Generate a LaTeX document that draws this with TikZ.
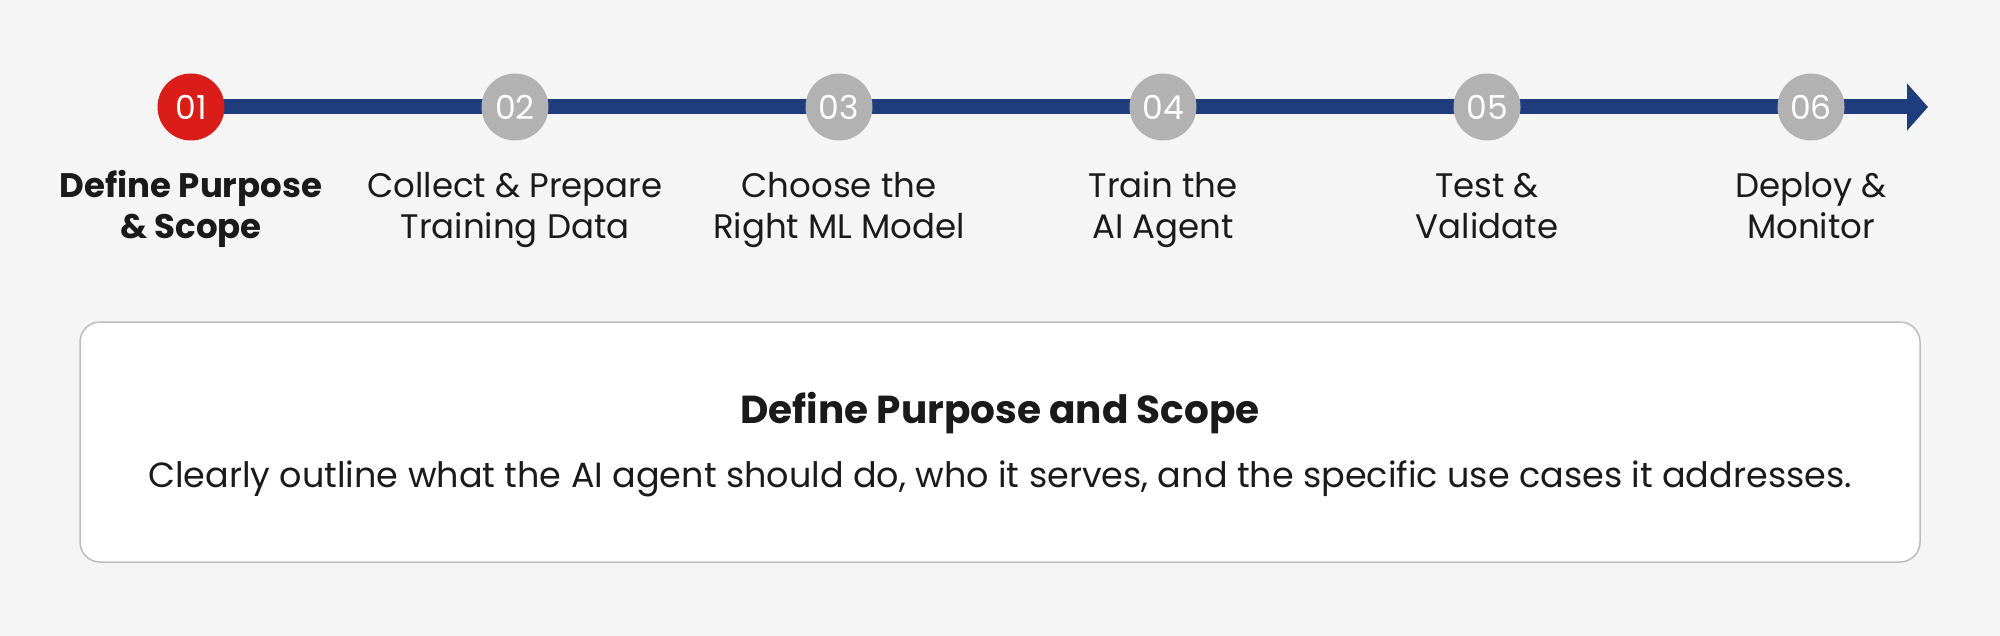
\documentclass[tikz,border=0pt]{standalone}
\usepackage{fontspec}
\setmainfont{Poppins}
\usepackage{xcolor}
\usetikzlibrary{arrows.meta}

\definecolor{pagebg}{HTML}{F5F5F5}
\definecolor{navy}{HTML}{1F3D7C}
\definecolor{stepred}{HTML}{DA1D18}
\definecolor{stepgray}{HTML}{B2B2B2}
\definecolor{ink}{HTML}{1A1A1A}
\definecolor{boxline}{HTML}{BDBDBD}

\begin{document}
\begin{tikzpicture}[x=0.5pt,y=-0.5pt,node distance=162pt,
    stepdot/.style={circle, fill=stepgray, minimum size=33.5pt, inner sep=0pt, text=white, font=\fontsize{16.5}{18}\selectfont},
    steplabel/.style={align=center, inner sep=0pt, text=ink, font=\fontsize{17}{20.5}\selectfont},
    ]
                    \useasboundingbox (0,0) rectangle (2000,636);
                    \fill [pagebg](0,0) rectangle (2000,636);

                    \coordinate (start) at (191,107);
                    \coordinate (tip) at (1928,107);
                    \draw [navy, line width=7.5pt, -{Triangle[width=23pt,length=10.5pt]}](start) -- (tip);

                    \node [stepdot, fill=stepred](1) at (start){01};
                    \node [stepdot](2) [right of = 1]{02};
                    \node [stepdot](3) [right of = 2]{03};
                    \node [stepdot](4) [right of = 3]{04};
                    \node [stepdot](5) [right of = 4]{05};
                    \node [stepdot](6) [right of = 5]{06};

                    \node [steplabel, font=\fontsize{17}{20.5}\selectfont\bfseries](l1) [below of = 1, node distance=51.6pt]{\strut Define Purpose\\\strut\& Scope};
                    \node [steplabel](l2) [below of = 2, node distance=51.6pt]{\strut Collect \& Prepare\\\strut Training Data};
                    \node [steplabel](l3) [below of = 3, node distance=51.6pt]{\strut Choose the\\\strut Right ML Model};
                    \node [steplabel](l4) [below of = 4, node distance=51.6pt]{\strut Train the\\\strut AI Agent};
                    \node [steplabel](l5) [below of = 5, node distance=51.6pt]{\strut Test \&\\\strut Validate};
                    \node [steplabel](l6) [below of = 6, node distance=51.6pt]{\strut Deploy \&\\\strut Monitor};

                    \node [draw=boxline, fill=white, line width=0.75pt, rounded corners=10pt, minimum width=920pt, minimum height=120pt](box) at (1000,442){};
                    \node [text=ink, anchor=base, font=\fontsize{19.5}{22}\selectfont\bfseries](title) at (1000,423){Define Purpose and Scope};
                    \node [text=ink, anchor=base, font=\fontsize{17.5}{20}\selectfont](desc) at (1000,487){Clearly outline what the AI agent should do, who it serves, and the specific use cases it addresses.};
                \end{tikzpicture}
\end{document}
